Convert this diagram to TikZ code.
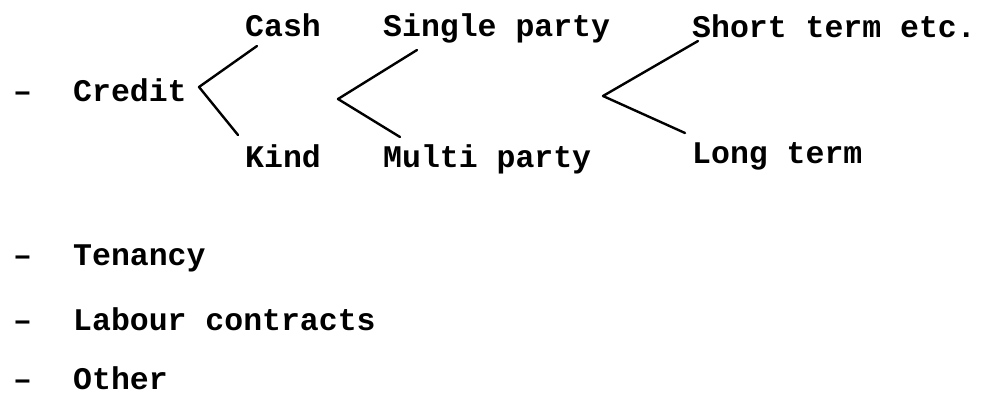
\documentclass[tikz,border=0pt]{standalone}
\usepackage{fontspec}
\setmonofont{Liberation Mono}
\begin{document}
\begin{tikzpicture}[x=1pt,y=-1pt,
  txt/.style={anchor=base west,inner sep=0pt,font=\ttfamily\bfseries\fontsize{31.5}{34}\selectfont},
  br/.style={line width=2.4pt,line cap=round,line join=round}]
\useasboundingbox[fill=white] (0,0) rectangle (983,396);
\node[txt] (d1) at (13,102) {–};
\node[txt] (credit) at (73,102) {Credit};
\node[txt] (cash) at (245,37) {Cash};
\node[txt] (kind) at (245,167) {Kind};
\node[txt] (single) at (383,37) {Single party};
\node[txt] (multi) at (383,167) {Multi party};
\node[txt] (short) at (692,38) {Short term etc.};
\node[txt] (long) at (692,163) {Long term};
\node[txt] (d2) at (13,265) {–};
\node[txt] (ten) at (73,265) {Tenancy};
\node[txt] (d3) at (13,330) {–};
\node[txt] (lab) at (73,330) {Labour contracts};
\node[txt] (d4) at (13,389) {–};
\node[txt] (oth) at (73,389) {Other};
\coordinate (v1) at (199,87);
\coordinate (t1) at (257,46);
\coordinate (b1) at (238,135);
\coordinate (v2) at (338,99);
\coordinate (t2) at (417,50);
\coordinate (b2) at (400,137);
\coordinate (v3) at (603,96);
\coordinate (t3) at (698,41);
\coordinate (b3) at (685,133);
\draw[br] (t1) -- (v1) -- (b1);
\draw[br] (t2) -- (v2) -- (b2);
\draw[br] (t3) -- (v3) -- (b3);
\end{tikzpicture}
\end{document}
